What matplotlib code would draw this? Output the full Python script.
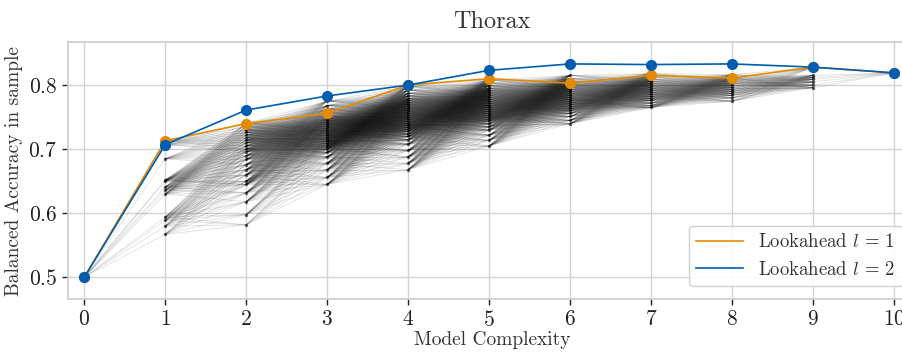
import matplotlib
matplotlib.use('Agg')
import matplotlib.pyplot as plt
from matplotlib.collections import LineCollection
from matplotlib.lines import Line2D

# complexity levels on the x axis
complexity = [0, 1, 2, 3, 4, 5, 6, 7, 8, 9, 10]

# greedy search paths
lookahead1 = [0.500, 0.713, 0.740, 0.756, 0.800, 0.810, 0.803, 0.815, 0.811, 0.828, 0.819]
lookahead2 = [0.500, 0.707, 0.761, 0.783, 0.800, 0.823, 0.833, 0.832, 0.833, 0.828, 0.819]

lvl0 = [0.500]
lvl1 = [0.713, 0.707, 0.685, 0.652, 0.650, 0.641, 0.636, 0.630, 0.594, 0.589, 0.580, 0.567]
lvl2 = [0.740, 0.735, 0.730, 0.726, 0.722, 0.718, 0.714, 0.710, 0.705, 0.700, 0.696,
        0.690, 0.684, 0.676, 0.668, 0.660, 0.650, 0.645, 0.632, 0.618, 0.598, 0.582]
lvl3 = [0.775, 0.768, 0.762, 0.757, 0.752, 0.748, 0.745, 0.742, 0.739, 0.736, 0.733,
        0.730, 0.727, 0.724, 0.721, 0.718, 0.715, 0.712, 0.709, 0.706, 0.703, 0.700,
        0.695, 0.688, 0.678, 0.668, 0.656, 0.645]
lvl4 = [0.798, 0.792, 0.787, 0.783, 0.779, 0.776, 0.773, 0.770, 0.767, 0.764, 0.761,
        0.758, 0.755, 0.752, 0.749, 0.746, 0.743, 0.740, 0.737, 0.734, 0.731, 0.728,
        0.724, 0.720, 0.715, 0.708, 0.698, 0.688, 0.678, 0.668]
lvl5 = [0.808, 0.803, 0.799, 0.795, 0.792, 0.789, 0.786, 0.783, 0.780, 0.777, 0.774,
        0.771, 0.768, 0.765, 0.762, 0.759, 0.756, 0.753, 0.750, 0.747, 0.744, 0.740,
        0.735, 0.730, 0.722, 0.714, 0.705]
lvl6 = [0.815, 0.810, 0.806, 0.802, 0.799, 0.796, 0.793, 0.790, 0.787, 0.784, 0.781,
        0.778, 0.775, 0.772, 0.769, 0.766, 0.763, 0.760, 0.756, 0.751, 0.745, 0.740]
lvl7 = [0.818, 0.813, 0.809, 0.806, 0.803, 0.800, 0.797, 0.794, 0.791, 0.788, 0.785,
        0.782, 0.779, 0.776, 0.772, 0.768, 0.765]
lvl8 = [0.816, 0.811, 0.808, 0.805, 0.802, 0.799, 0.796, 0.793, 0.790, 0.787, 0.784,
        0.780, 0.775]
lvl9 = [0.828, 0.815, 0.812, 0.809, 0.805, 0.800, 0.796]
lvl10 = [0.819]
levels = [lvl0, lvl1, lvl2, lvl3, lvl4, lvl5, lvl6, lvl7, lvl8, lvl9, lvl10]

plt.rcParams['font.family'] = 'serif'
plt.rcParams['font.serif'] = ['cmr10']
plt.rcParams['mathtext.fontset'] = 'cm'
plt.rcParams['axes.formatter.use_mathtext'] = True
plt.rcParams['axes.unicode_minus'] = False

fig = plt.figure(figsize=(9.02, 3.54), dpi=100)
# axes runs slightly past the right edge of the canvas, like the original crop
ax = fig.add_axes([0.0754, 0.155, 0.94, 0.726])

# connect each model to the models one step more complex
segs = []
for k in range(len(levels) - 1):
    for a in levels[k]:
        for b in levels[k + 1]:
            if k == 0 or k == len(levels) - 2 or (a - 0.015 <= b <= a + 0.12):
                segs.append([(complexity[k], a), (complexity[k + 1], b)])
ax.add_collection(LineCollection(segs, colors='black', linewidths=0.6, alpha=0.12, zorder=2))
for k, vals in enumerate(levels):
    ax.plot([complexity[k]] * len(vals), vals, ls='none', marker='.', ms=3,
            color='black', alpha=0.5, zorder=2)

orange = '#e38b00'
blue = '#005db0'
ax.plot(complexity, lookahead1, color=orange, lw=1.2, marker='o', ms=7, zorder=4)
ax.plot(complexity, lookahead2, color=blue, lw=1.2, marker='o', ms=7, zorder=5)

ax.set_xlim(-0.2, 10.27)
ax.set_ylim(0.466, 0.867)
ax.set_xticks(complexity)
ax.set_yticks([0.5, 0.6, 0.7, 0.8])
ax.grid(True, color='#d4d4d4', lw=1.0, zorder=0)
ax.set_axisbelow(True)
for s in ax.spines.values():
    s.set_color('#cccccc')
    s.set_linewidth(1.2)
ax.tick_params(axis='both', labelsize=15.5, colors='#222222', length=4, width=1, direction='out')
ax.tick_params(top=False, right=False)

ax.set_xlabel('Model Complexity', fontsize=14, color='#333333', labelpad=1)
ax.set_ylabel('Balanced Accuracy in sample', fontsize=14, color='#333333', labelpad=4)
ax.set_title('Thorax', fontsize=17.5, color='#333333', pad=10)

handles = [Line2D([], [], color=orange, lw=1.2), Line2D([], [], color=blue, lw=1.2)]
leg = ax.legend(handles, [r'Lookahead $l\,=\,1$', r'Lookahead $l\,=\,2$'], loc='lower right',
                fontsize=13.5, frameon=True, fancybox=True, edgecolor='#cccccc',
                framealpha=0.9, borderaxespad=0.7, handlelength=2.5)
for t in leg.get_texts():
    t.set_color('#333333')

fig.savefig('out.png', dpi=100)
